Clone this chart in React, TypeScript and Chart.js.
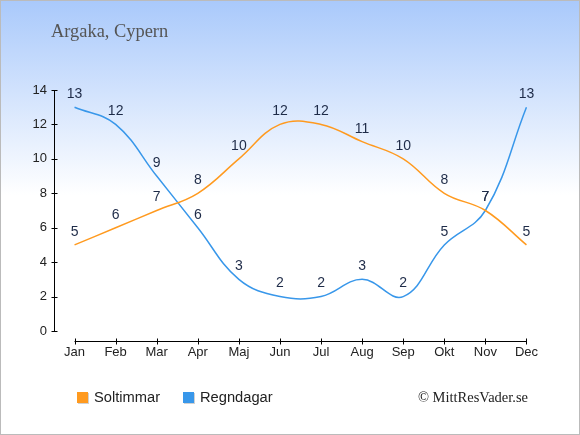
import { useEffect, useRef } from 'react'
import { Chart, registerables, Plugin } from 'chart.js'

Chart.register(...registerables)

const months = ['Jan', 'Feb', 'Mar', 'Apr', 'Maj', 'Jun', 'Jul', 'Aug', 'Sep', 'Okt', 'Nov', 'Dec']
const sunHours = [5, 6, 7, 8, 10, 12, 12, 11, 10, 8, 7, 5]
const rainDays = [13, 12, 9, 6, 3, 2, 2, 3, 2, 5, 7, 13]
const yTicks = [0, 2, 4, 6, 8, 10, 12, 14]

const ORANGE = '#ff9a1f'
const BLUE = '#3897ea'

const decorPlugin: Plugin<'line'> = {
  id: 'decor',
  beforeDraw(chart) {
    const { ctx, width, height } = chart
    const g = ctx.createLinearGradient(0, 0, 0, 195)
    g.addColorStop(0, '#a9c9fb')
    g.addColorStop(1, '#ffffff')
    ctx.save()
    ctx.fillStyle = '#ffffff'
    ctx.fillRect(0, 0, width, height)
    ctx.fillStyle = g
    ctx.fillRect(0, 0, width, 195)
    ctx.restore()
  },
  beforeDatasetsDraw(chart) {
    const { ctx, scales } = chart
    const x = scales.x
    const y = scales.y
    ctx.save()
    ctx.strokeStyle = '#000'
    ctx.lineWidth = 1
    // y axis
    const ax = Math.round(chart.chartArea.left) + 0.5
    ctx.beginPath()
    ctx.moveTo(ax, y.getPixelForValue(14))
    ctx.lineTo(ax, y.getPixelForValue(0))
    yTicks.forEach(v => {
      const py = Math.round(y.getPixelForValue(v)) + 0.5
      ctx.moveTo(ax - 3, py)
      ctx.lineTo(ax + 3, py)
    })
    ctx.stroke()
    // x axis, drawn a little below the plot
    const ay = Math.round(y.getPixelForValue(0)) + 10.5
    ctx.beginPath()
    ctx.moveTo(x.getPixelForValue(0), ay)
    ctx.lineTo(x.getPixelForValue(months.length - 1), ay)
    months.forEach((_, i) => {
      const px = Math.round(x.getPixelForValue(i)) + 0.5
      ctx.moveTo(px, ay - 3)
      ctx.lineTo(px, ay + 3)
    })
    ctx.stroke()
    ctx.restore()
  },
  afterDatasetsDraw(chart) {
    const { ctx } = chart
    ctx.save()
    ctx.font = '14px "Liberation Sans", Arial, sans-serif'
    ctx.fillStyle = '#1e2b48'
    ctx.textAlign = 'center'
    ctx.textBaseline = 'middle'
    chart.data.datasets.forEach((ds, di) => {
      const meta = chart.getDatasetMeta(di)
      meta.data.forEach((pt, i) => {
        ctx.fillText(String(ds.data[i]), pt.x, pt.y - 13)
      })
    })

    // title
    ctx.textAlign = 'left'
    ctx.fillStyle = '#555555'
    ctx.font = '18.4px "Liberation Serif", "Times New Roman", serif'
    ctx.fillText('Argaka, Cypern', 51, 32)

    // legend
    ctx.font = '14.7px "Liberation Sans", Arial, sans-serif'
    ctx.fillStyle = '#222222'
    const items = [
      { x: 77, color: ORANGE, label: chart.data.datasets[0].label || '' },
      { x: 183, color: BLUE, label: chart.data.datasets[1].label || '' }
    ]
    items.forEach(it => {
      ctx.fillStyle = 'rgba(0,0,0,0.18)'
      ctx.fillRect(it.x + 1, 393, 11, 11)
      ctx.fillStyle = it.color
      ctx.fillRect(it.x, 392, 11, 11)
      ctx.fillStyle = '#222222'
      ctx.fillText(it.label, it.x + 17, 398)
    })

    // credit
    ctx.font = '14.5px "Liberation Serif", "Times New Roman", serif'
    ctx.fillStyle = '#222222'
    ctx.textAlign = 'right'
    ctx.fillText('\u00a9 MittResVader.se', 528, 398)

    // frame
    ctx.strokeStyle = '#bbbbbb'
    ctx.lineWidth = 1
    ctx.strokeRect(0.5, 0.5, chart.width - 1, chart.height - 1)
    ctx.restore()
  }
}

export default function App() {
  const canvasRef = useRef<HTMLCanvasElement>(null)
  const chartRef = useRef<Chart | null>(null)

  useEffect(() => {
    document.body.style.margin = '0'
    if (!canvasRef.current) return

    const config: any = {
      type: 'line',
      data: {
        labels: months,
        datasets: [
          {
            label: 'Soltimmar',
            data: sunHours,
            borderColor: ORANGE,
            borderWidth: 1.5,
            pointRadius: 0,
            tension: 0.4,
            fill: false
          },
          {
            label: 'Regndagar',
            data: rainDays,
            borderColor: BLUE,
            borderWidth: 1.5,
            pointRadius: 0,
            tension: 0.4,
            fill: false
          }
        ]
      },
      options: {
        responsive: false,
        animation: false,
        layout: { padding: { left: 0, right: 33, top: 90, bottom: 64 } },
        plugins: {
          legend: { display: false },
          title: { display: false },
          tooltip: { enabled: false }
        },
        scales: {
          x: {
            type: 'category',
            offset: true,
            grid: { display: false, drawTicks: false },
            border: { display: false },
            afterFit: (s: any) => { s.height = 40 },
            ticks: {
              color: '#222222',
              padding: 14,
              maxRotation: 0,
              font: { size: 13, family: '"Liberation Sans", Arial, sans-serif' }
            }
          },
          y: {
            min: 0,
            max: 14,
            grid: { display: false, drawTicks: false },
            border: { display: false },
            afterFit: (s: any) => { s.width = 54 },
            afterBuildTicks: (s: any) => { s.ticks = yTicks.map(v => ({ value: v })) },
            ticks: {
              color: '#222222',
              padding: 7,
              font: { size: 13, family: '"Liberation Sans", Arial, sans-serif' }
            }
          }
        }
      },
      plugins: [decorPlugin]
    }

    if (chartRef.current) chartRef.current.destroy()
    chartRef.current = new Chart(canvasRef.current, config)

    return () => {
      if (chartRef.current) {
        chartRef.current.destroy()
        chartRef.current = null
      }
    }
  }, [])

  return (
    <div style={{ position: 'absolute', left: 0, top: 0, width: 580, height: 435 }}>
      <canvas ref={canvasRef} width={580} height={435} />
    </div>
  )
}
